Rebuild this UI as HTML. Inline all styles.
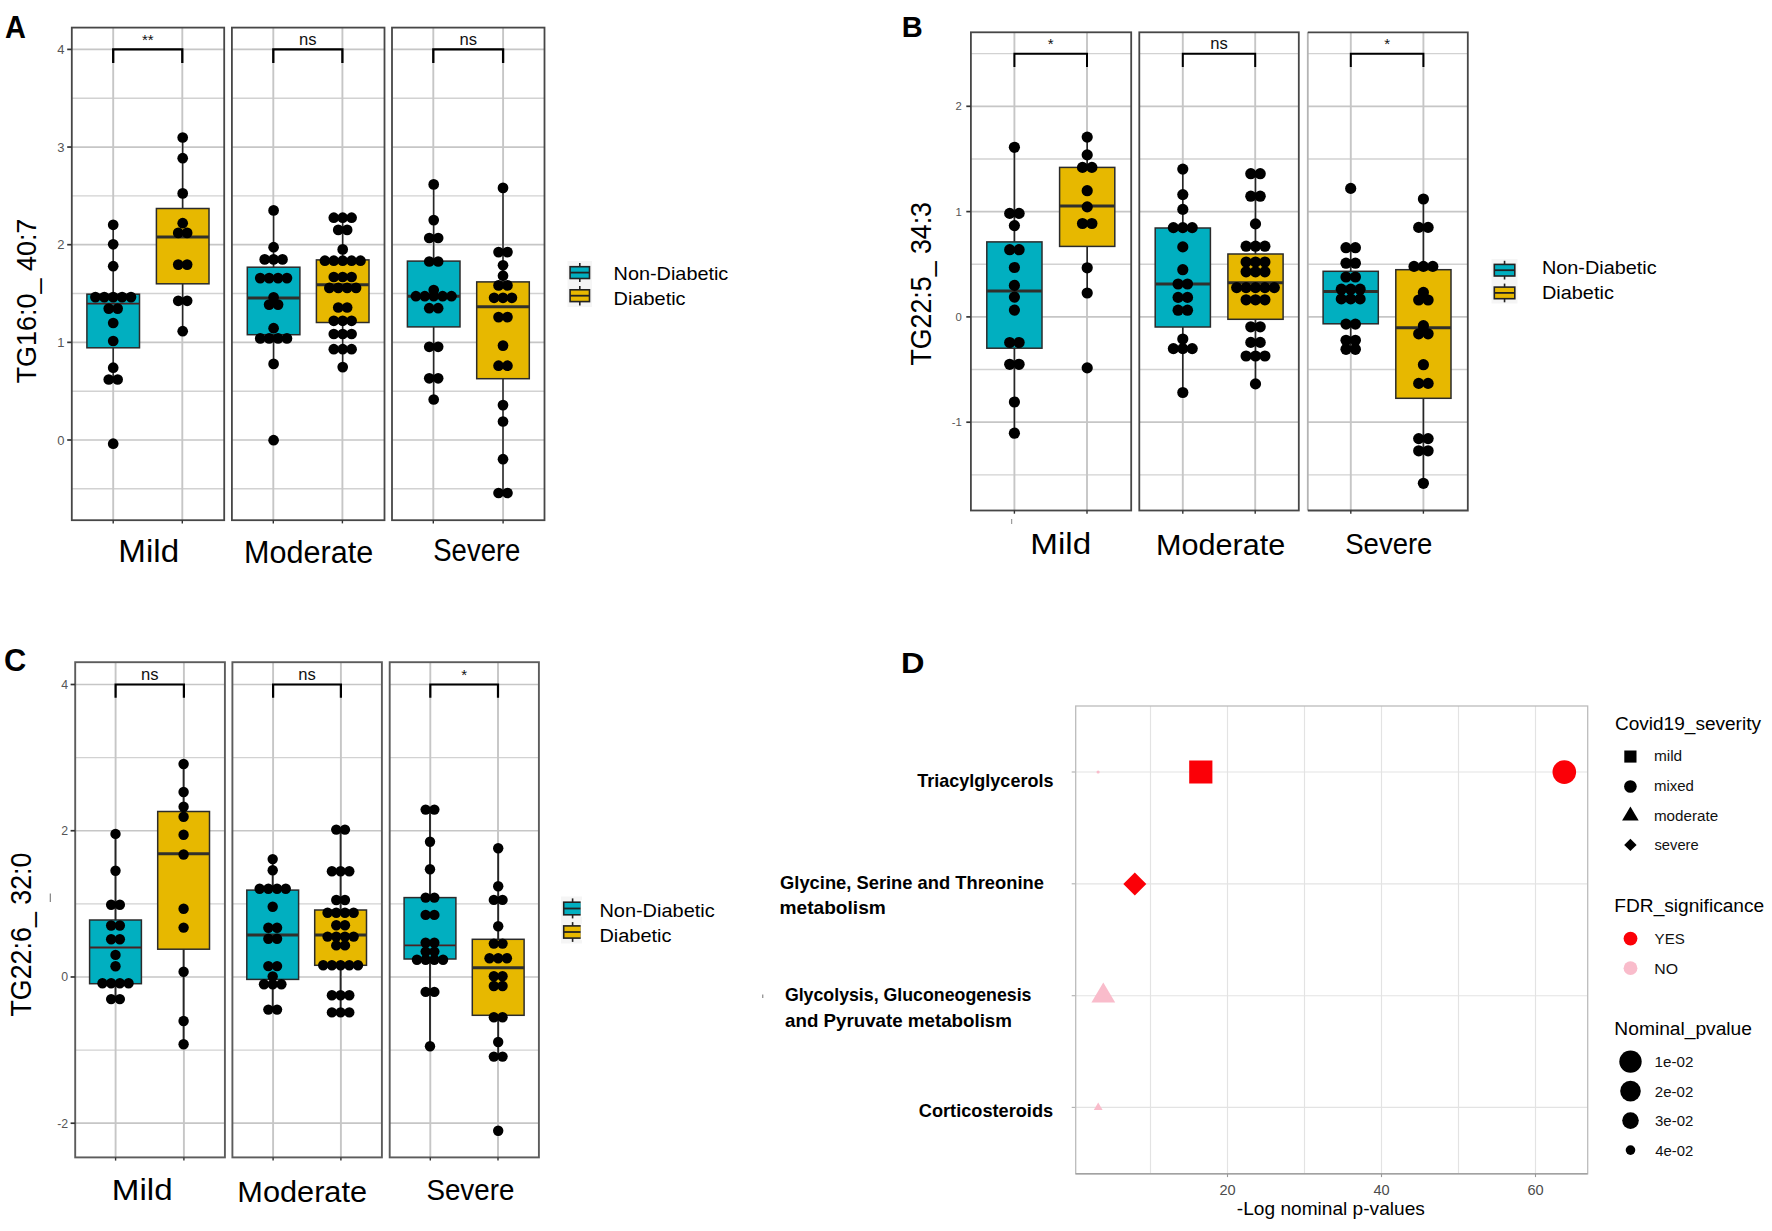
<!DOCTYPE html>
<html lang="en"><head><meta charset="utf-8"><title>Figure</title>
<style>html,body{margin:0;padding:0;background:#fff;overflow:hidden}svg{display:block}</style></head>
<body>
<svg width="1772" height="1231" viewBox="0 0 1772 1231" font-family="'Liberation Sans', sans-serif">
<rect width="1772" height="1231" fill="#fff"/>
<rect x="71.80" y="27.60" width="152.40" height="492.60" fill="#fff"/>
<line x1="71.80" x2="224.20" y1="49.40" y2="49.40" stroke="#c6c6c6" stroke-width="1.70"/>
<line x1="71.80" x2="224.20" y1="98.22" y2="98.22" stroke="#d2d2d2" stroke-width="1.40"/>
<line x1="71.80" x2="224.20" y1="147.05" y2="147.05" stroke="#c6c6c6" stroke-width="1.70"/>
<line x1="71.80" x2="224.20" y1="195.88" y2="195.88" stroke="#d2d2d2" stroke-width="1.40"/>
<line x1="71.80" x2="224.20" y1="244.70" y2="244.70" stroke="#c6c6c6" stroke-width="1.70"/>
<line x1="71.80" x2="224.20" y1="293.52" y2="293.52" stroke="#d2d2d2" stroke-width="1.40"/>
<line x1="71.80" x2="224.20" y1="342.35" y2="342.35" stroke="#c6c6c6" stroke-width="1.70"/>
<line x1="71.80" x2="224.20" y1="391.18" y2="391.18" stroke="#d2d2d2" stroke-width="1.40"/>
<line x1="71.80" x2="224.20" y1="440.00" y2="440.00" stroke="#c6c6c6" stroke-width="1.70"/>
<line x1="71.80" x2="224.20" y1="488.82" y2="488.82" stroke="#d2d2d2" stroke-width="1.40"/>
<line x1="113.20" x2="113.20" y1="27.60" y2="520.20" stroke="#c6c6c6" stroke-width="1.9"/>
<line x1="182.30" x2="182.30" y1="27.60" y2="520.20" stroke="#c6c6c6" stroke-width="1.9"/>
<rect x="231.90" y="27.60" width="152.60" height="492.60" fill="#fff"/>
<line x1="231.90" x2="384.50" y1="49.40" y2="49.40" stroke="#c6c6c6" stroke-width="1.70"/>
<line x1="231.90" x2="384.50" y1="98.22" y2="98.22" stroke="#d2d2d2" stroke-width="1.40"/>
<line x1="231.90" x2="384.50" y1="147.05" y2="147.05" stroke="#c6c6c6" stroke-width="1.70"/>
<line x1="231.90" x2="384.50" y1="195.88" y2="195.88" stroke="#d2d2d2" stroke-width="1.40"/>
<line x1="231.90" x2="384.50" y1="244.70" y2="244.70" stroke="#c6c6c6" stroke-width="1.70"/>
<line x1="231.90" x2="384.50" y1="293.52" y2="293.52" stroke="#d2d2d2" stroke-width="1.40"/>
<line x1="231.90" x2="384.50" y1="342.35" y2="342.35" stroke="#c6c6c6" stroke-width="1.70"/>
<line x1="231.90" x2="384.50" y1="391.18" y2="391.18" stroke="#d2d2d2" stroke-width="1.40"/>
<line x1="231.90" x2="384.50" y1="440.00" y2="440.00" stroke="#c6c6c6" stroke-width="1.70"/>
<line x1="231.90" x2="384.50" y1="488.82" y2="488.82" stroke="#d2d2d2" stroke-width="1.40"/>
<line x1="273.30" x2="273.30" y1="27.60" y2="520.20" stroke="#c6c6c6" stroke-width="1.9"/>
<line x1="342.40" x2="342.40" y1="27.60" y2="520.20" stroke="#c6c6c6" stroke-width="1.9"/>
<rect x="392.00" y="27.60" width="152.50" height="492.60" fill="#fff"/>
<line x1="392.00" x2="544.50" y1="49.40" y2="49.40" stroke="#c6c6c6" stroke-width="1.70"/>
<line x1="392.00" x2="544.50" y1="98.22" y2="98.22" stroke="#d2d2d2" stroke-width="1.40"/>
<line x1="392.00" x2="544.50" y1="147.05" y2="147.05" stroke="#c6c6c6" stroke-width="1.70"/>
<line x1="392.00" x2="544.50" y1="195.88" y2="195.88" stroke="#d2d2d2" stroke-width="1.40"/>
<line x1="392.00" x2="544.50" y1="244.70" y2="244.70" stroke="#c6c6c6" stroke-width="1.70"/>
<line x1="392.00" x2="544.50" y1="293.52" y2="293.52" stroke="#d2d2d2" stroke-width="1.40"/>
<line x1="392.00" x2="544.50" y1="342.35" y2="342.35" stroke="#c6c6c6" stroke-width="1.70"/>
<line x1="392.00" x2="544.50" y1="391.18" y2="391.18" stroke="#d2d2d2" stroke-width="1.40"/>
<line x1="392.00" x2="544.50" y1="440.00" y2="440.00" stroke="#c6c6c6" stroke-width="1.70"/>
<line x1="392.00" x2="544.50" y1="488.82" y2="488.82" stroke="#d2d2d2" stroke-width="1.40"/>
<line x1="433.30" x2="433.30" y1="27.60" y2="520.20" stroke="#c6c6c6" stroke-width="1.9"/>
<line x1="503.10" x2="503.10" y1="27.60" y2="520.20" stroke="#c6c6c6" stroke-width="1.9"/>
<line x1="113.20" x2="113.20" y1="224.80" y2="294.20" stroke="#262626" stroke-width="1.50"/>
<line x1="113.20" x2="113.20" y1="347.80" y2="379.50" stroke="#262626" stroke-width="1.50"/>
<rect x="86.90" y="294.20" width="52.60" height="53.60" fill="#01AFC0" stroke="#2b2b2b" stroke-width="1.5"/>
<line x1="86.90" x2="139.50" y1="303.60" y2="303.60" stroke="#4a2222" stroke-width="1.8"/>
<line x1="182.70" x2="182.70" y1="137.50" y2="208.50" stroke="#262626" stroke-width="1.50"/>
<line x1="182.70" x2="182.70" y1="283.80" y2="331.20" stroke="#262626" stroke-width="1.50"/>
<rect x="156.40" y="208.50" width="52.60" height="75.30" fill="#E7B800" stroke="#2b2b2b" stroke-width="1.5"/>
<line x1="156.40" x2="209.00" y1="237.00" y2="237.00" stroke="#30302c" stroke-width="3.0"/>
<line x1="273.60" x2="273.60" y1="210.40" y2="267.20" stroke="#262626" stroke-width="1.50"/>
<line x1="273.60" x2="273.60" y1="334.70" y2="363.90" stroke="#262626" stroke-width="1.50"/>
<rect x="247.30" y="267.20" width="52.60" height="67.50" fill="#01AFC0" stroke="#2b2b2b" stroke-width="1.5"/>
<line x1="247.30" x2="299.90" y1="298.10" y2="298.10" stroke="#30302c" stroke-width="3.0"/>
<line x1="342.70" x2="342.70" y1="217.70" y2="259.90" stroke="#262626" stroke-width="1.50"/>
<line x1="342.70" x2="342.70" y1="322.50" y2="367.10" stroke="#262626" stroke-width="1.50"/>
<rect x="316.40" y="259.90" width="52.60" height="62.60" fill="#E7B800" stroke="#2b2b2b" stroke-width="1.5"/>
<line x1="316.40" x2="369.00" y1="284.80" y2="284.80" stroke="#30302c" stroke-width="3.0"/>
<line x1="433.70" x2="433.70" y1="184.40" y2="261.10" stroke="#262626" stroke-width="1.50"/>
<line x1="433.70" x2="433.70" y1="326.90" y2="399.50" stroke="#262626" stroke-width="1.50"/>
<rect x="407.40" y="261.10" width="52.60" height="65.80" fill="#01AFC0" stroke="#2b2b2b" stroke-width="1.5"/>
<line x1="407.40" x2="460.00" y1="296.20" y2="296.20" stroke="#30302c" stroke-width="3.0"/>
<line x1="503.00" x2="503.00" y1="187.90" y2="281.90" stroke="#262626" stroke-width="1.50"/>
<line x1="503.00" x2="503.00" y1="378.70" y2="493.00" stroke="#262626" stroke-width="1.50"/>
<rect x="476.70" y="281.90" width="52.60" height="96.80" fill="#E7B800" stroke="#2b2b2b" stroke-width="1.5"/>
<line x1="476.70" x2="529.30" y1="306.70" y2="306.70" stroke="#30302c" stroke-width="3.0"/>
<g fill="#000"><circle cx="113.20" cy="224.80" r="5.35"/><circle cx="113.20" cy="244.30" r="5.35"/><circle cx="113.20" cy="266.20" r="5.35"/><circle cx="95.40" cy="297.10" r="5.35"/><circle cx="104.30" cy="297.10" r="5.35"/><circle cx="113.20" cy="297.10" r="5.35"/><circle cx="122.10" cy="297.10" r="5.35"/><circle cx="131.00" cy="297.10" r="5.35"/><circle cx="108.75" cy="308.60" r="5.35"/><circle cx="117.65" cy="308.60" r="5.35"/><circle cx="113.20" cy="323.00" r="5.35"/><circle cx="113.20" cy="341.00" r="5.35"/><circle cx="113.20" cy="367.70" r="5.35"/><circle cx="108.75" cy="379.50" r="5.35"/><circle cx="117.65" cy="379.50" r="5.35"/><circle cx="113.20" cy="443.70" r="5.35"/><circle cx="182.70" cy="137.50" r="5.35"/><circle cx="182.70" cy="158.20" r="5.35"/><circle cx="182.70" cy="193.40" r="5.35"/><circle cx="182.70" cy="223.20" r="5.35"/><circle cx="178.25" cy="232.90" r="5.35"/><circle cx="187.15" cy="232.90" r="5.35"/><circle cx="178.25" cy="264.60" r="5.35"/><circle cx="187.15" cy="264.60" r="5.35"/><circle cx="178.25" cy="300.80" r="5.35"/><circle cx="187.15" cy="300.80" r="5.35"/><circle cx="182.70" cy="331.20" r="5.35"/><circle cx="273.60" cy="210.40" r="5.35"/><circle cx="273.60" cy="247.20" r="5.35"/><circle cx="264.70" cy="259.40" r="5.35"/><circle cx="273.60" cy="259.40" r="5.35"/><circle cx="282.50" cy="259.40" r="5.35"/><circle cx="260.25" cy="278.10" r="5.35"/><circle cx="269.15" cy="278.10" r="5.35"/><circle cx="278.05" cy="278.10" r="5.35"/><circle cx="286.95" cy="278.10" r="5.35"/><circle cx="273.60" cy="297.30" r="5.35"/><circle cx="269.15" cy="304.60" r="5.35"/><circle cx="278.05" cy="304.60" r="5.35"/><circle cx="273.60" cy="328.20" r="5.35"/><circle cx="260.25" cy="338.40" r="5.35"/><circle cx="269.15" cy="338.40" r="5.35"/><circle cx="278.05" cy="338.40" r="5.35"/><circle cx="286.95" cy="338.40" r="5.35"/><circle cx="273.60" cy="363.90" r="5.35"/><circle cx="273.60" cy="440.20" r="5.35"/><circle cx="333.80" cy="217.70" r="5.35"/><circle cx="342.70" cy="217.70" r="5.35"/><circle cx="351.60" cy="217.70" r="5.35"/><circle cx="338.25" cy="229.90" r="5.35"/><circle cx="347.15" cy="229.90" r="5.35"/><circle cx="342.70" cy="249.40" r="5.35"/><circle cx="324.90" cy="260.70" r="5.35"/><circle cx="333.80" cy="260.70" r="5.35"/><circle cx="342.70" cy="260.70" r="5.35"/><circle cx="351.60" cy="260.70" r="5.35"/><circle cx="360.50" cy="260.70" r="5.35"/><circle cx="333.80" cy="277.00" r="5.35"/><circle cx="342.70" cy="277.00" r="5.35"/><circle cx="351.60" cy="277.00" r="5.35"/><circle cx="329.35" cy="287.90" r="5.35"/><circle cx="338.25" cy="287.90" r="5.35"/><circle cx="347.15" cy="287.90" r="5.35"/><circle cx="356.05" cy="287.90" r="5.35"/><circle cx="338.25" cy="307.50" r="5.35"/><circle cx="347.15" cy="307.50" r="5.35"/><circle cx="333.80" cy="320.80" r="5.35"/><circle cx="342.70" cy="320.80" r="5.35"/><circle cx="351.60" cy="320.80" r="5.35"/><circle cx="333.80" cy="334.00" r="5.35"/><circle cx="342.70" cy="334.00" r="5.35"/><circle cx="351.60" cy="334.00" r="5.35"/><circle cx="333.80" cy="349.20" r="5.35"/><circle cx="342.70" cy="349.20" r="5.35"/><circle cx="351.60" cy="349.20" r="5.35"/><circle cx="342.70" cy="367.10" r="5.35"/><circle cx="433.70" cy="184.40" r="5.35"/><circle cx="433.70" cy="220.10" r="5.35"/><circle cx="429.25" cy="238.00" r="5.35"/><circle cx="438.15" cy="238.00" r="5.35"/><circle cx="429.25" cy="261.50" r="5.35"/><circle cx="438.15" cy="261.50" r="5.35"/><circle cx="433.70" cy="290.00" r="5.35"/><circle cx="415.90" cy="296.20" r="5.35"/><circle cx="424.80" cy="296.20" r="5.35"/><circle cx="433.70" cy="296.20" r="5.35"/><circle cx="442.60" cy="296.20" r="5.35"/><circle cx="451.50" cy="296.20" r="5.35"/><circle cx="429.25" cy="308.20" r="5.35"/><circle cx="438.15" cy="308.20" r="5.35"/><circle cx="429.25" cy="346.80" r="5.35"/><circle cx="438.15" cy="346.80" r="5.35"/><circle cx="429.25" cy="378.30" r="5.35"/><circle cx="438.15" cy="378.30" r="5.35"/><circle cx="433.70" cy="399.50" r="5.35"/><circle cx="503.00" cy="187.90" r="5.35"/><circle cx="498.55" cy="252.10" r="5.35"/><circle cx="507.45" cy="252.10" r="5.35"/><circle cx="503.00" cy="265.30" r="5.35"/><circle cx="503.00" cy="275.70" r="5.35"/><circle cx="498.55" cy="285.40" r="5.35"/><circle cx="507.45" cy="285.40" r="5.35"/><circle cx="494.10" cy="297.80" r="5.35"/><circle cx="503.00" cy="297.80" r="5.35"/><circle cx="511.90" cy="297.80" r="5.35"/><circle cx="498.55" cy="317.10" r="5.35"/><circle cx="507.45" cy="317.10" r="5.35"/><circle cx="503.00" cy="345.60" r="5.35"/><circle cx="498.55" cy="365.70" r="5.35"/><circle cx="507.45" cy="365.70" r="5.35"/><circle cx="503.00" cy="405.10" r="5.35"/><circle cx="503.00" cy="421.50" r="5.35"/><circle cx="503.00" cy="459.20" r="5.35"/><circle cx="498.55" cy="493.00" r="5.35"/><circle cx="507.45" cy="493.00" r="5.35"/></g>
<rect x="71.80" y="27.60" width="152.40" height="492.60" fill="none" stroke="#474747" stroke-width="1.80"/>
<line x1="113.20" x2="113.20" y1="520.20" y2="523.40" stroke="#333" stroke-width="1.4"/>
<line x1="182.30" x2="182.30" y1="520.20" y2="523.40" stroke="#333" stroke-width="1.4"/>
<rect x="231.90" y="27.60" width="152.60" height="492.60" fill="none" stroke="#474747" stroke-width="1.80"/>
<line x1="273.30" x2="273.30" y1="520.20" y2="523.40" stroke="#333" stroke-width="1.4"/>
<line x1="342.40" x2="342.40" y1="520.20" y2="523.40" stroke="#333" stroke-width="1.4"/>
<rect x="392.00" y="27.60" width="152.50" height="492.60" fill="none" stroke="#474747" stroke-width="1.80"/>
<line x1="433.30" x2="433.30" y1="520.20" y2="523.40" stroke="#333" stroke-width="1.4"/>
<line x1="503.10" x2="503.10" y1="520.20" y2="523.40" stroke="#333" stroke-width="1.4"/>
<path d="M113.20 63.00 V49.40 H182.30 V63.00" fill="none" stroke="#000" stroke-width="2.30"/>
<text x="147.75" y="45.00" font-size="15.00" text-anchor="middle" fill="#111">**</text>
<path d="M273.30 63.00 V49.40 H342.40 V63.00" fill="none" stroke="#000" stroke-width="2.30"/>
<text x="307.85" y="44.80" font-size="16.60" text-anchor="middle" fill="#111">ns</text>
<path d="M433.30 63.00 V49.40 H503.10 V63.00" fill="none" stroke="#000" stroke-width="2.30"/>
<text x="468.20" y="44.80" font-size="16.60" text-anchor="middle" fill="#111">ns</text>
<line x1="67.20" x2="71.80" y1="49.40" y2="49.40" stroke="#333" stroke-width="1.7"/>
<text x="64.60" y="54.05" font-size="13.00" text-anchor="end" fill="#555">4</text>
<line x1="67.20" x2="71.80" y1="147.05" y2="147.05" stroke="#333" stroke-width="1.7"/>
<text x="64.60" y="151.70" font-size="13.00" text-anchor="end" fill="#555">3</text>
<line x1="67.20" x2="71.80" y1="244.70" y2="244.70" stroke="#333" stroke-width="1.7"/>
<text x="64.60" y="249.35" font-size="13.00" text-anchor="end" fill="#555">2</text>
<line x1="67.20" x2="71.80" y1="342.35" y2="342.35" stroke="#333" stroke-width="1.7"/>
<text x="64.60" y="347.00" font-size="13.00" text-anchor="end" fill="#555">1</text>
<line x1="67.20" x2="71.80" y1="440.00" y2="440.00" stroke="#333" stroke-width="1.7"/>
<text x="64.60" y="444.65" font-size="13.00" text-anchor="end" fill="#555">0</text>
<rect x="970.90" y="32.30" width="160.30" height="478.20" fill="#fff"/>
<line x1="970.90" x2="1131.20" y1="53.65" y2="53.65" stroke="#d2d2d2" stroke-width="1.40"/>
<line x1="970.90" x2="1131.20" y1="106.30" y2="106.30" stroke="#c6c6c6" stroke-width="1.70"/>
<line x1="970.90" x2="1131.20" y1="158.95" y2="158.95" stroke="#d2d2d2" stroke-width="1.40"/>
<line x1="970.90" x2="1131.20" y1="211.60" y2="211.60" stroke="#c6c6c6" stroke-width="1.70"/>
<line x1="970.90" x2="1131.20" y1="264.25" y2="264.25" stroke="#d2d2d2" stroke-width="1.40"/>
<line x1="970.90" x2="1131.20" y1="316.90" y2="316.90" stroke="#c6c6c6" stroke-width="1.70"/>
<line x1="970.90" x2="1131.20" y1="369.55" y2="369.55" stroke="#d2d2d2" stroke-width="1.40"/>
<line x1="970.90" x2="1131.20" y1="422.20" y2="422.20" stroke="#c6c6c6" stroke-width="1.70"/>
<line x1="970.90" x2="1131.20" y1="474.85" y2="474.85" stroke="#d2d2d2" stroke-width="1.40"/>
<line x1="1014.40" x2="1014.40" y1="32.30" y2="510.50" stroke="#c6c6c6" stroke-width="1.9"/>
<line x1="1087.00" x2="1087.00" y1="32.30" y2="510.50" stroke="#c6c6c6" stroke-width="1.9"/>
<rect x="1139.30" y="32.30" width="159.50" height="478.20" fill="#fff"/>
<line x1="1139.30" x2="1298.80" y1="53.65" y2="53.65" stroke="#d2d2d2" stroke-width="1.40"/>
<line x1="1139.30" x2="1298.80" y1="106.30" y2="106.30" stroke="#c6c6c6" stroke-width="1.70"/>
<line x1="1139.30" x2="1298.80" y1="158.95" y2="158.95" stroke="#d2d2d2" stroke-width="1.40"/>
<line x1="1139.30" x2="1298.80" y1="211.60" y2="211.60" stroke="#c6c6c6" stroke-width="1.70"/>
<line x1="1139.30" x2="1298.80" y1="264.25" y2="264.25" stroke="#d2d2d2" stroke-width="1.40"/>
<line x1="1139.30" x2="1298.80" y1="316.90" y2="316.90" stroke="#c6c6c6" stroke-width="1.70"/>
<line x1="1139.30" x2="1298.80" y1="369.55" y2="369.55" stroke="#d2d2d2" stroke-width="1.40"/>
<line x1="1139.30" x2="1298.80" y1="422.20" y2="422.20" stroke="#c6c6c6" stroke-width="1.70"/>
<line x1="1139.30" x2="1298.80" y1="474.85" y2="474.85" stroke="#d2d2d2" stroke-width="1.40"/>
<line x1="1182.80" x2="1182.80" y1="32.30" y2="510.50" stroke="#c6c6c6" stroke-width="1.9"/>
<line x1="1255.20" x2="1255.20" y1="32.30" y2="510.50" stroke="#c6c6c6" stroke-width="1.9"/>
<rect x="1307.80" y="32.30" width="160.00" height="478.20" fill="#fff"/>
<line x1="1307.80" x2="1467.80" y1="53.65" y2="53.65" stroke="#d2d2d2" stroke-width="1.40"/>
<line x1="1307.80" x2="1467.80" y1="106.30" y2="106.30" stroke="#c6c6c6" stroke-width="1.70"/>
<line x1="1307.80" x2="1467.80" y1="158.95" y2="158.95" stroke="#d2d2d2" stroke-width="1.40"/>
<line x1="1307.80" x2="1467.80" y1="211.60" y2="211.60" stroke="#c6c6c6" stroke-width="1.70"/>
<line x1="1307.80" x2="1467.80" y1="264.25" y2="264.25" stroke="#d2d2d2" stroke-width="1.40"/>
<line x1="1307.80" x2="1467.80" y1="316.90" y2="316.90" stroke="#c6c6c6" stroke-width="1.70"/>
<line x1="1307.80" x2="1467.80" y1="369.55" y2="369.55" stroke="#d2d2d2" stroke-width="1.40"/>
<line x1="1307.80" x2="1467.80" y1="422.20" y2="422.20" stroke="#c6c6c6" stroke-width="1.70"/>
<line x1="1307.80" x2="1467.80" y1="474.85" y2="474.85" stroke="#d2d2d2" stroke-width="1.40"/>
<line x1="1350.80" x2="1350.80" y1="32.30" y2="510.50" stroke="#c6c6c6" stroke-width="1.9"/>
<line x1="1423.40" x2="1423.40" y1="32.30" y2="510.50" stroke="#c6c6c6" stroke-width="1.9"/>
<line x1="1014.40" x2="1014.40" y1="147.30" y2="241.90" stroke="#262626" stroke-width="1.60"/>
<line x1="1014.40" x2="1014.40" y1="348.20" y2="433.20" stroke="#262626" stroke-width="1.60"/>
<rect x="986.80" y="241.90" width="55.20" height="106.30" fill="#01AFC0" stroke="#2b2b2b" stroke-width="1.5"/>
<line x1="986.80" x2="1042.00" y1="290.90" y2="290.90" stroke="#30302c" stroke-width="3.0"/>
<line x1="1087.20" x2="1087.20" y1="137.10" y2="167.40" stroke="#262626" stroke-width="1.60"/>
<line x1="1087.20" x2="1087.20" y1="246.40" y2="293.00" stroke="#262626" stroke-width="1.60"/>
<rect x="1059.60" y="167.40" width="55.20" height="79.00" fill="#E7B800" stroke="#2b2b2b" stroke-width="1.5"/>
<line x1="1059.60" x2="1114.80" y1="206.10" y2="206.10" stroke="#30302c" stroke-width="3.0"/>
<line x1="1182.80" x2="1182.80" y1="169.10" y2="228.00" stroke="#262626" stroke-width="1.60"/>
<line x1="1182.80" x2="1182.80" y1="327.00" y2="392.50" stroke="#262626" stroke-width="1.60"/>
<rect x="1155.20" y="228.00" width="55.20" height="99.00" fill="#01AFC0" stroke="#2b2b2b" stroke-width="1.5"/>
<line x1="1155.20" x2="1210.40" y1="284.00" y2="284.00" stroke="#30302c" stroke-width="3.0"/>
<line x1="1255.50" x2="1255.50" y1="173.70" y2="254.00" stroke="#262626" stroke-width="1.60"/>
<line x1="1255.50" x2="1255.50" y1="319.30" y2="383.90" stroke="#262626" stroke-width="1.60"/>
<rect x="1227.90" y="254.00" width="55.20" height="65.30" fill="#E7B800" stroke="#2b2b2b" stroke-width="1.5"/>
<line x1="1227.90" x2="1283.10" y1="282.80" y2="282.80" stroke="#30302c" stroke-width="3.0"/>
<line x1="1350.70" x2="1350.70" y1="247.70" y2="271.30" stroke="#262626" stroke-width="1.60"/>
<line x1="1350.70" x2="1350.70" y1="323.80" y2="349.30" stroke="#262626" stroke-width="1.60"/>
<rect x="1323.10" y="271.30" width="55.20" height="52.50" fill="#01AFC0" stroke="#2b2b2b" stroke-width="1.5"/>
<line x1="1323.10" x2="1378.30" y1="291.60" y2="291.60" stroke="#30302c" stroke-width="3.0"/>
<line x1="1423.40" x2="1423.40" y1="199.00" y2="269.70" stroke="#262626" stroke-width="1.60"/>
<line x1="1423.40" x2="1423.40" y1="398.30" y2="483.30" stroke="#262626" stroke-width="1.60"/>
<rect x="1395.80" y="269.70" width="55.20" height="128.60" fill="#E7B800" stroke="#2b2b2b" stroke-width="1.5"/>
<line x1="1395.80" x2="1451.00" y1="327.80" y2="327.80" stroke="#30302c" stroke-width="3.0"/>
<g fill="#000"><circle cx="1014.40" cy="147.30" r="5.60"/><circle cx="1009.70" cy="213.40" r="5.60"/><circle cx="1019.10" cy="213.40" r="5.60"/><circle cx="1014.40" cy="225.60" r="5.60"/><circle cx="1009.70" cy="249.70" r="5.60"/><circle cx="1019.10" cy="249.70" r="5.60"/><circle cx="1014.40" cy="267.50" r="5.60"/><circle cx="1014.40" cy="285.40" r="5.60"/><circle cx="1014.40" cy="297.10" r="5.60"/><circle cx="1014.40" cy="310.10" r="5.60"/><circle cx="1009.70" cy="342.50" r="5.60"/><circle cx="1019.10" cy="342.50" r="5.60"/><circle cx="1009.70" cy="364.30" r="5.60"/><circle cx="1019.10" cy="364.30" r="5.60"/><circle cx="1014.40" cy="402.00" r="5.60"/><circle cx="1014.40" cy="433.20" r="5.60"/><circle cx="1087.20" cy="137.10" r="5.60"/><circle cx="1087.20" cy="154.90" r="5.60"/><circle cx="1082.50" cy="167.40" r="5.60"/><circle cx="1091.90" cy="167.40" r="5.60"/><circle cx="1087.20" cy="190.70" r="5.60"/><circle cx="1087.20" cy="206.90" r="5.60"/><circle cx="1082.50" cy="223.50" r="5.60"/><circle cx="1091.90" cy="223.50" r="5.60"/><circle cx="1087.20" cy="267.80" r="5.60"/><circle cx="1087.20" cy="293.00" r="5.60"/><circle cx="1087.20" cy="367.90" r="5.60"/><circle cx="1182.80" cy="169.10" r="5.60"/><circle cx="1182.80" cy="194.60" r="5.60"/><circle cx="1182.80" cy="209.40" r="5.60"/><circle cx="1173.40" cy="227.60" r="5.60"/><circle cx="1182.80" cy="227.60" r="5.60"/><circle cx="1192.20" cy="227.60" r="5.60"/><circle cx="1182.80" cy="246.90" r="5.60"/><circle cx="1182.80" cy="269.70" r="5.60"/><circle cx="1178.10" cy="284.00" r="5.60"/><circle cx="1187.50" cy="284.00" r="5.60"/><circle cx="1178.10" cy="297.40" r="5.60"/><circle cx="1187.50" cy="297.40" r="5.60"/><circle cx="1178.10" cy="310.20" r="5.60"/><circle cx="1187.50" cy="310.20" r="5.60"/><circle cx="1182.80" cy="339.00" r="5.60"/><circle cx="1173.40" cy="348.60" r="5.60"/><circle cx="1182.80" cy="348.60" r="5.60"/><circle cx="1192.20" cy="348.60" r="5.60"/><circle cx="1182.80" cy="392.50" r="5.60"/><circle cx="1250.80" cy="173.70" r="5.60"/><circle cx="1260.20" cy="173.70" r="5.60"/><circle cx="1250.80" cy="196.20" r="5.60"/><circle cx="1260.20" cy="196.20" r="5.60"/><circle cx="1255.50" cy="223.90" r="5.60"/><circle cx="1246.10" cy="246.20" r="5.60"/><circle cx="1255.50" cy="246.20" r="5.60"/><circle cx="1264.90" cy="246.20" r="5.60"/><circle cx="1246.10" cy="262.00" r="5.60"/><circle cx="1255.50" cy="262.00" r="5.60"/><circle cx="1264.90" cy="262.00" r="5.60"/><circle cx="1246.10" cy="271.80" r="5.60"/><circle cx="1255.50" cy="271.80" r="5.60"/><circle cx="1264.90" cy="271.80" r="5.60"/><circle cx="1236.70" cy="287.60" r="5.60"/><circle cx="1246.10" cy="287.60" r="5.60"/><circle cx="1255.50" cy="287.60" r="5.60"/><circle cx="1264.90" cy="287.60" r="5.60"/><circle cx="1274.30" cy="287.60" r="5.60"/><circle cx="1246.10" cy="299.80" r="5.60"/><circle cx="1255.50" cy="299.80" r="5.60"/><circle cx="1264.90" cy="299.80" r="5.60"/><circle cx="1250.80" cy="326.80" r="5.60"/><circle cx="1260.20" cy="326.80" r="5.60"/><circle cx="1250.80" cy="342.40" r="5.60"/><circle cx="1260.20" cy="342.40" r="5.60"/><circle cx="1246.10" cy="356.00" r="5.60"/><circle cx="1255.50" cy="356.00" r="5.60"/><circle cx="1264.90" cy="356.00" r="5.60"/><circle cx="1255.50" cy="383.90" r="5.60"/><circle cx="1350.70" cy="188.40" r="5.60"/><circle cx="1346.00" cy="247.70" r="5.60"/><circle cx="1355.40" cy="247.70" r="5.60"/><circle cx="1346.00" cy="263.20" r="5.60"/><circle cx="1355.40" cy="263.20" r="5.60"/><circle cx="1346.00" cy="277.00" r="5.60"/><circle cx="1355.40" cy="277.00" r="5.60"/><circle cx="1341.30" cy="289.20" r="5.60"/><circle cx="1350.70" cy="289.20" r="5.60"/><circle cx="1360.10" cy="289.20" r="5.60"/><circle cx="1341.30" cy="298.90" r="5.60"/><circle cx="1350.70" cy="298.90" r="5.60"/><circle cx="1360.10" cy="298.90" r="5.60"/><circle cx="1346.00" cy="324.10" r="5.60"/><circle cx="1355.40" cy="324.10" r="5.60"/><circle cx="1346.00" cy="340.30" r="5.60"/><circle cx="1355.40" cy="340.30" r="5.60"/><circle cx="1346.00" cy="349.30" r="5.60"/><circle cx="1355.40" cy="349.30" r="5.60"/><circle cx="1423.40" cy="199.00" r="5.60"/><circle cx="1418.70" cy="227.40" r="5.60"/><circle cx="1428.10" cy="227.40" r="5.60"/><circle cx="1414.00" cy="266.40" r="5.60"/><circle cx="1423.40" cy="266.40" r="5.60"/><circle cx="1432.80" cy="266.40" r="5.60"/><circle cx="1423.40" cy="292.40" r="5.60"/><circle cx="1418.70" cy="300.00" r="5.60"/><circle cx="1428.10" cy="300.00" r="5.60"/><circle cx="1423.40" cy="325.70" r="5.60"/><circle cx="1418.70" cy="333.80" r="5.60"/><circle cx="1428.10" cy="333.80" r="5.60"/><circle cx="1423.40" cy="364.70" r="5.60"/><circle cx="1418.70" cy="383.40" r="5.60"/><circle cx="1428.10" cy="383.40" r="5.60"/><circle cx="1418.70" cy="438.60" r="5.60"/><circle cx="1428.10" cy="438.60" r="5.60"/><circle cx="1418.70" cy="450.80" r="5.60"/><circle cx="1428.10" cy="450.80" r="5.60"/><circle cx="1423.40" cy="483.30" r="5.60"/></g>
<rect x="970.90" y="32.30" width="160.30" height="478.20" fill="none" stroke="#474747" stroke-width="1.80"/>
<line x1="1014.40" x2="1014.40" y1="510.50" y2="513.70" stroke="#333" stroke-width="1.4"/>
<line x1="1087.00" x2="1087.00" y1="510.50" y2="513.70" stroke="#333" stroke-width="1.4"/>
<rect x="1139.30" y="32.30" width="159.50" height="478.20" fill="none" stroke="#474747" stroke-width="1.80"/>
<line x1="1182.80" x2="1182.80" y1="510.50" y2="513.70" stroke="#333" stroke-width="1.4"/>
<line x1="1255.20" x2="1255.20" y1="510.50" y2="513.70" stroke="#333" stroke-width="1.4"/>
<line x1="1307.80" x2="1307.80" y1="32.30" y2="510.50" stroke="#b4b4b4" stroke-width="1.80"/>
<path d="M1307.80 32.30 H1467.80 V510.50 H1307.80" fill="none" stroke="#474747" stroke-width="1.80"/>
<line x1="1350.80" x2="1350.80" y1="510.50" y2="513.70" stroke="#333" stroke-width="1.4"/>
<line x1="1423.40" x2="1423.40" y1="510.50" y2="513.70" stroke="#333" stroke-width="1.4"/>
<path d="M1014.40 66.90 V53.80 H1087.00 V66.90" fill="none" stroke="#000" stroke-width="2.00"/>
<text x="1050.70" y="49.40" font-size="15.00" text-anchor="middle" fill="#111">*</text>
<path d="M1182.80 66.90 V53.80 H1255.20 V66.90" fill="none" stroke="#000" stroke-width="2.00"/>
<text x="1219.00" y="49.20" font-size="16.60" text-anchor="middle" fill="#111">ns</text>
<path d="M1350.80 66.90 V53.80 H1423.40 V66.90" fill="none" stroke="#000" stroke-width="2.00"/>
<text x="1387.10" y="49.40" font-size="15.00" text-anchor="middle" fill="#111">*</text>
<line x1="966.30" x2="970.90" y1="106.30" y2="106.30" stroke="#333" stroke-width="1.7"/>
<text x="961.90" y="110.35" font-size="11.30" text-anchor="end" fill="#555">2</text>
<line x1="966.30" x2="970.90" y1="211.60" y2="211.60" stroke="#333" stroke-width="1.7"/>
<text x="961.90" y="215.65" font-size="11.30" text-anchor="end" fill="#555">1</text>
<line x1="966.30" x2="970.90" y1="316.90" y2="316.90" stroke="#333" stroke-width="1.7"/>
<text x="961.90" y="320.95" font-size="11.30" text-anchor="end" fill="#555">0</text>
<line x1="966.30" x2="970.90" y1="422.20" y2="422.20" stroke="#333" stroke-width="1.7"/>
<text x="961.90" y="426.25" font-size="11.30" text-anchor="end" fill="#555">-1</text>
<rect x="75.20" y="662.20" width="149.70" height="495.20" fill="#fff"/>
<line x1="75.20" x2="224.90" y1="684.50" y2="684.50" stroke="#c6c6c6" stroke-width="1.70"/>
<line x1="75.20" x2="224.90" y1="757.62" y2="757.62" stroke="#d2d2d2" stroke-width="1.40"/>
<line x1="75.20" x2="224.90" y1="830.74" y2="830.74" stroke="#c6c6c6" stroke-width="1.70"/>
<line x1="75.20" x2="224.90" y1="903.86" y2="903.86" stroke="#d2d2d2" stroke-width="1.40"/>
<line x1="75.20" x2="224.90" y1="976.98" y2="976.98" stroke="#c6c6c6" stroke-width="1.70"/>
<line x1="75.20" x2="224.90" y1="1050.10" y2="1050.10" stroke="#d2d2d2" stroke-width="1.40"/>
<line x1="75.20" x2="224.90" y1="1123.22" y2="1123.22" stroke="#c6c6c6" stroke-width="1.70"/>
<line x1="115.60" x2="115.60" y1="662.20" y2="1157.40" stroke="#c6c6c6" stroke-width="1.9"/>
<line x1="183.90" x2="183.90" y1="662.20" y2="1157.40" stroke="#c6c6c6" stroke-width="1.9"/>
<rect x="232.40" y="662.20" width="149.50" height="495.20" fill="#fff"/>
<line x1="232.40" x2="381.90" y1="684.50" y2="684.50" stroke="#c6c6c6" stroke-width="1.70"/>
<line x1="232.40" x2="381.90" y1="757.62" y2="757.62" stroke="#d2d2d2" stroke-width="1.40"/>
<line x1="232.40" x2="381.90" y1="830.74" y2="830.74" stroke="#c6c6c6" stroke-width="1.70"/>
<line x1="232.40" x2="381.90" y1="903.86" y2="903.86" stroke="#d2d2d2" stroke-width="1.40"/>
<line x1="232.40" x2="381.90" y1="976.98" y2="976.98" stroke="#c6c6c6" stroke-width="1.70"/>
<line x1="232.40" x2="381.90" y1="1050.10" y2="1050.10" stroke="#d2d2d2" stroke-width="1.40"/>
<line x1="232.40" x2="381.90" y1="1123.22" y2="1123.22" stroke="#c6c6c6" stroke-width="1.70"/>
<line x1="273.10" x2="273.10" y1="662.20" y2="1157.40" stroke="#c6c6c6" stroke-width="1.9"/>
<line x1="340.90" x2="340.90" y1="662.20" y2="1157.40" stroke="#c6c6c6" stroke-width="1.9"/>
<rect x="389.70" y="662.20" width="149.20" height="495.20" fill="#fff"/>
<line x1="389.70" x2="538.90" y1="684.50" y2="684.50" stroke="#c6c6c6" stroke-width="1.70"/>
<line x1="389.70" x2="538.90" y1="757.62" y2="757.62" stroke="#d2d2d2" stroke-width="1.40"/>
<line x1="389.70" x2="538.90" y1="830.74" y2="830.74" stroke="#c6c6c6" stroke-width="1.70"/>
<line x1="389.70" x2="538.90" y1="903.86" y2="903.86" stroke="#d2d2d2" stroke-width="1.40"/>
<line x1="389.70" x2="538.90" y1="976.98" y2="976.98" stroke="#c6c6c6" stroke-width="1.70"/>
<line x1="389.70" x2="538.90" y1="1050.10" y2="1050.10" stroke="#d2d2d2" stroke-width="1.40"/>
<line x1="389.70" x2="538.90" y1="1123.22" y2="1123.22" stroke="#c6c6c6" stroke-width="1.70"/>
<line x1="430.30" x2="430.30" y1="662.20" y2="1157.40" stroke="#c6c6c6" stroke-width="1.9"/>
<line x1="498.00" x2="498.00" y1="662.20" y2="1157.40" stroke="#c6c6c6" stroke-width="1.9"/>
<line x1="115.50" x2="115.50" y1="833.90" y2="920.00" stroke="#262626" stroke-width="1.90"/>
<line x1="115.50" x2="115.50" y1="983.70" y2="999.10" stroke="#262626" stroke-width="1.90"/>
<rect x="89.60" y="920.00" width="51.80" height="63.70" fill="#01AFC0" stroke="#2b2b2b" stroke-width="1.5"/>
<line x1="89.60" x2="141.40" y1="947.60" y2="947.60" stroke="#4a2222" stroke-width="2.0"/>
<line x1="183.60" x2="183.60" y1="764.00" y2="811.50" stroke="#262626" stroke-width="1.90"/>
<line x1="183.60" x2="183.60" y1="949.20" y2="1044.30" stroke="#262626" stroke-width="1.90"/>
<rect x="157.70" y="811.50" width="51.80" height="137.70" fill="#E7B800" stroke="#2b2b2b" stroke-width="1.5"/>
<line x1="157.70" x2="209.50" y1="853.70" y2="853.70" stroke="#30302c" stroke-width="3.0"/>
<line x1="272.70" x2="272.70" y1="859.10" y2="890.10" stroke="#262626" stroke-width="1.90"/>
<line x1="272.70" x2="272.70" y1="979.40" y2="1009.60" stroke="#262626" stroke-width="1.90"/>
<rect x="246.80" y="890.10" width="51.80" height="89.30" fill="#01AFC0" stroke="#2b2b2b" stroke-width="1.5"/>
<line x1="246.80" x2="298.60" y1="935.10" y2="935.10" stroke="#30302c" stroke-width="3.0"/>
<line x1="340.60" x2="340.60" y1="829.60" y2="910.00" stroke="#262626" stroke-width="1.90"/>
<line x1="340.60" x2="340.60" y1="965.30" y2="1012.40" stroke="#262626" stroke-width="1.90"/>
<rect x="314.70" y="910.00" width="51.80" height="55.30" fill="#E7B800" stroke="#2b2b2b" stroke-width="1.5"/>
<line x1="314.70" x2="366.50" y1="935.00" y2="935.00" stroke="#30302c" stroke-width="3.0"/>
<line x1="430.00" x2="430.00" y1="809.60" y2="897.60" stroke="#262626" stroke-width="1.90"/>
<line x1="430.00" x2="430.00" y1="959.00" y2="1046.30" stroke="#262626" stroke-width="1.90"/>
<rect x="404.10" y="897.60" width="51.80" height="61.40" fill="#01AFC0" stroke="#2b2b2b" stroke-width="1.5"/>
<line x1="404.10" x2="455.90" y1="945.30" y2="945.30" stroke="#4a2222" stroke-width="1.8"/>
<line x1="498.20" x2="498.20" y1="848.20" y2="939.30" stroke="#262626" stroke-width="1.90"/>
<line x1="498.20" x2="498.20" y1="1015.30" y2="1056.60" stroke="#262626" stroke-width="1.90"/>
<rect x="472.30" y="939.30" width="51.80" height="76.00" fill="#E7B800" stroke="#2b2b2b" stroke-width="1.5"/>
<line x1="472.30" x2="524.10" y1="967.80" y2="967.80" stroke="#30302c" stroke-width="3.0"/>
<g fill="#000"><circle cx="115.50" cy="833.90" r="5.20"/><circle cx="115.50" cy="870.80" r="5.20"/><circle cx="111.15" cy="904.70" r="5.20"/><circle cx="119.85" cy="904.70" r="5.20"/><circle cx="111.15" cy="925.50" r="5.20"/><circle cx="119.85" cy="925.50" r="5.20"/><circle cx="111.15" cy="939.20" r="5.20"/><circle cx="119.85" cy="939.20" r="5.20"/><circle cx="115.50" cy="954.90" r="5.20"/><circle cx="115.50" cy="966.30" r="5.20"/><circle cx="102.45" cy="983.20" r="5.20"/><circle cx="111.15" cy="983.20" r="5.20"/><circle cx="119.85" cy="983.20" r="5.20"/><circle cx="128.55" cy="983.20" r="5.20"/><circle cx="111.15" cy="999.10" r="5.20"/><circle cx="119.85" cy="999.10" r="5.20"/><circle cx="183.60" cy="764.00" r="5.20"/><circle cx="183.60" cy="792.00" r="5.20"/><circle cx="183.60" cy="806.70" r="5.20"/><circle cx="183.60" cy="816.80" r="5.20"/><circle cx="183.60" cy="834.70" r="5.20"/><circle cx="183.60" cy="854.50" r="5.20"/><circle cx="183.60" cy="908.70" r="5.20"/><circle cx="183.60" cy="927.60" r="5.20"/><circle cx="183.60" cy="971.80" r="5.20"/><circle cx="183.60" cy="1021.00" r="5.20"/><circle cx="183.60" cy="1044.30" r="5.20"/><circle cx="272.70" cy="859.10" r="5.20"/><circle cx="272.70" cy="870.20" r="5.20"/><circle cx="259.65" cy="888.70" r="5.20"/><circle cx="268.35" cy="888.70" r="5.20"/><circle cx="277.05" cy="888.70" r="5.20"/><circle cx="285.75" cy="888.70" r="5.20"/><circle cx="272.70" cy="906.80" r="5.20"/><circle cx="268.35" cy="927.70" r="5.20"/><circle cx="277.05" cy="927.70" r="5.20"/><circle cx="268.35" cy="938.80" r="5.20"/><circle cx="277.05" cy="938.80" r="5.20"/><circle cx="268.35" cy="966.10" r="5.20"/><circle cx="277.05" cy="966.10" r="5.20"/><circle cx="272.70" cy="976.40" r="5.20"/><circle cx="264.00" cy="984.20" r="5.20"/><circle cx="272.70" cy="984.20" r="5.20"/><circle cx="281.40" cy="984.20" r="5.20"/><circle cx="268.35" cy="1009.60" r="5.20"/><circle cx="277.05" cy="1009.60" r="5.20"/><circle cx="336.25" cy="829.60" r="5.20"/><circle cx="344.95" cy="829.60" r="5.20"/><circle cx="331.90" cy="871.20" r="5.20"/><circle cx="340.60" cy="871.20" r="5.20"/><circle cx="349.30" cy="871.20" r="5.20"/><circle cx="336.25" cy="900.00" r="5.20"/><circle cx="344.95" cy="900.00" r="5.20"/><circle cx="327.55" cy="912.70" r="5.20"/><circle cx="336.25" cy="912.70" r="5.20"/><circle cx="344.95" cy="912.70" r="5.20"/><circle cx="353.65" cy="912.70" r="5.20"/><circle cx="336.25" cy="925.30" r="5.20"/><circle cx="344.95" cy="925.30" r="5.20"/><circle cx="327.55" cy="936.60" r="5.20"/><circle cx="336.25" cy="936.60" r="5.20"/><circle cx="344.95" cy="936.60" r="5.20"/><circle cx="353.65" cy="936.60" r="5.20"/><circle cx="336.25" cy="945.40" r="5.20"/><circle cx="344.95" cy="945.40" r="5.20"/><circle cx="323.20" cy="965.20" r="5.20"/><circle cx="331.90" cy="965.20" r="5.20"/><circle cx="340.60" cy="965.20" r="5.20"/><circle cx="349.30" cy="965.20" r="5.20"/><circle cx="358.00" cy="965.20" r="5.20"/><circle cx="331.90" cy="995.20" r="5.20"/><circle cx="340.60" cy="995.20" r="5.20"/><circle cx="349.30" cy="995.20" r="5.20"/><circle cx="331.90" cy="1012.40" r="5.20"/><circle cx="340.60" cy="1012.40" r="5.20"/><circle cx="349.30" cy="1012.40" r="5.20"/><circle cx="425.65" cy="809.60" r="5.20"/><circle cx="434.35" cy="809.60" r="5.20"/><circle cx="430.00" cy="841.80" r="5.20"/><circle cx="430.00" cy="869.30" r="5.20"/><circle cx="425.65" cy="897.60" r="5.20"/><circle cx="434.35" cy="897.60" r="5.20"/><circle cx="425.65" cy="914.90" r="5.20"/><circle cx="434.35" cy="914.90" r="5.20"/><circle cx="425.65" cy="942.80" r="5.20"/><circle cx="434.35" cy="942.80" r="5.20"/><circle cx="425.65" cy="951.60" r="5.20"/><circle cx="434.35" cy="951.60" r="5.20"/><circle cx="416.95" cy="959.80" r="5.20"/><circle cx="425.65" cy="959.80" r="5.20"/><circle cx="434.35" cy="959.80" r="5.20"/><circle cx="443.05" cy="959.80" r="5.20"/><circle cx="425.65" cy="991.90" r="5.20"/><circle cx="434.35" cy="991.90" r="5.20"/><circle cx="430.00" cy="1046.30" r="5.20"/><circle cx="498.20" cy="848.20" r="5.20"/><circle cx="498.20" cy="886.30" r="5.20"/><circle cx="493.85" cy="899.90" r="5.20"/><circle cx="502.55" cy="899.90" r="5.20"/><circle cx="498.20" cy="926.20" r="5.20"/><circle cx="493.85" cy="943.60" r="5.20"/><circle cx="502.55" cy="943.60" r="5.20"/><circle cx="489.50" cy="958.20" r="5.20"/><circle cx="498.20" cy="958.20" r="5.20"/><circle cx="506.90" cy="958.20" r="5.20"/><circle cx="493.85" cy="976.20" r="5.20"/><circle cx="502.55" cy="976.20" r="5.20"/><circle cx="493.85" cy="986.00" r="5.20"/><circle cx="502.55" cy="986.00" r="5.20"/><circle cx="493.85" cy="1017.30" r="5.20"/><circle cx="502.55" cy="1017.30" r="5.20"/><circle cx="498.20" cy="1042.00" r="5.20"/><circle cx="493.85" cy="1056.60" r="5.20"/><circle cx="502.55" cy="1056.60" r="5.20"/><circle cx="498.20" cy="1130.70" r="5.20"/></g>
<rect x="75.20" y="662.20" width="149.70" height="495.20" fill="none" stroke="#5c5c5c" stroke-width="1.90"/>
<line x1="115.60" x2="115.60" y1="1157.40" y2="1160.60" stroke="#333" stroke-width="1.4"/>
<line x1="183.90" x2="183.90" y1="1157.40" y2="1160.60" stroke="#333" stroke-width="1.4"/>
<rect x="232.40" y="662.20" width="149.50" height="495.20" fill="none" stroke="#5c5c5c" stroke-width="1.90"/>
<line x1="273.10" x2="273.10" y1="1157.40" y2="1160.60" stroke="#333" stroke-width="1.4"/>
<line x1="340.90" x2="340.90" y1="1157.40" y2="1160.60" stroke="#333" stroke-width="1.4"/>
<rect x="389.70" y="662.20" width="149.20" height="495.20" fill="none" stroke="#5c5c5c" stroke-width="1.90"/>
<line x1="430.30" x2="430.30" y1="1157.40" y2="1160.60" stroke="#333" stroke-width="1.4"/>
<line x1="498.00" x2="498.00" y1="1157.40" y2="1160.60" stroke="#333" stroke-width="1.4"/>
<path d="M115.60 697.70 V684.50 H183.90 V697.70" fill="none" stroke="#000" stroke-width="2.20"/>
<text x="149.75" y="679.90" font-size="16.60" text-anchor="middle" fill="#111">ns</text>
<path d="M273.10 697.70 V684.50 H340.90 V697.70" fill="none" stroke="#000" stroke-width="2.20"/>
<text x="307.00" y="679.90" font-size="16.60" text-anchor="middle" fill="#111">ns</text>
<path d="M430.30 697.70 V684.50 H498.00 V697.70" fill="none" stroke="#000" stroke-width="2.20"/>
<text x="464.15" y="680.10" font-size="15.00" text-anchor="middle" fill="#111">*</text>
<line x1="70.60" x2="75.20" y1="684.50" y2="684.50" stroke="#333" stroke-width="1.7"/>
<text x="68.20" y="688.90" font-size="12.30" text-anchor="end" fill="#555">4</text>
<line x1="70.60" x2="75.20" y1="830.74" y2="830.74" stroke="#333" stroke-width="1.7"/>
<text x="68.20" y="835.14" font-size="12.30" text-anchor="end" fill="#555">2</text>
<line x1="70.60" x2="75.20" y1="976.98" y2="976.98" stroke="#333" stroke-width="1.7"/>
<text x="68.20" y="981.38" font-size="12.30" text-anchor="end" fill="#555">0</text>
<line x1="70.60" x2="75.20" y1="1123.22" y2="1123.22" stroke="#333" stroke-width="1.7"/>
<text x="68.20" y="1127.62" font-size="12.30" text-anchor="end" fill="#555">-2</text>
<text x="4.88" y="38.00" font-size="30.43" font-weight="bold" fill="#000" textLength="20.91" lengthAdjust="spacingAndGlyphs">A</text>
<text x="901.71" y="37.00" font-size="29.28" font-weight="bold" fill="#000" textLength="20.96" lengthAdjust="spacingAndGlyphs">B</text>
<text x="3.97" y="671.30" font-size="31.01" font-weight="bold" fill="#000" textLength="22.27" lengthAdjust="spacingAndGlyphs">C</text>
<text x="901.09" y="672.60" font-size="29.86" font-weight="bold" fill="#000" textLength="23.49" lengthAdjust="spacingAndGlyphs">D</text>
<text x="118.35" y="562.00" font-size="31.01" fill="#000" textLength="60.72" lengthAdjust="spacingAndGlyphs">Mild</text>
<text x="244.06" y="562.60" font-size="31.01" fill="#000" textLength="129.11" lengthAdjust="spacingAndGlyphs">Moderate</text>
<text x="433.26" y="561.40" font-size="31.01" fill="#000" textLength="87.17" lengthAdjust="spacingAndGlyphs">Severe</text>
<text x="1030.25" y="553.70" font-size="29.86" fill="#000" textLength="60.83" lengthAdjust="spacingAndGlyphs">Mild</text>
<text x="1156.06" y="555.00" font-size="29.86" fill="#000" textLength="129.11" lengthAdjust="spacingAndGlyphs">Moderate</text>
<text x="1345.26" y="553.90" font-size="29.86" fill="#000" textLength="87.17" lengthAdjust="spacingAndGlyphs">Severe</text>
<text x="111.85" y="1200.10" font-size="29.57" fill="#000" textLength="60.72" lengthAdjust="spacingAndGlyphs">Mild</text>
<text x="237.34" y="1202.10" font-size="29.57" fill="#000" textLength="129.73" lengthAdjust="spacingAndGlyphs">Moderate</text>
<text x="426.45" y="1200.30" font-size="29.57" fill="#000" textLength="87.90" lengthAdjust="spacingAndGlyphs">Severe</text>
<text x="-383.34" y="36.00" font-size="28.26" fill="#000" textLength="164.69" lengthAdjust="spacingAndGlyphs" transform="rotate(-90)">TG16:0_ 40:7</text>
<text x="-365.53" y="930.90" font-size="29.28" fill="#000" textLength="163.51" lengthAdjust="spacingAndGlyphs" transform="rotate(-90)">TG22:5_ 34:3</text>
<text x="-1016.54" y="30.80" font-size="28.99" fill="#000" textLength="163.98" lengthAdjust="spacingAndGlyphs" transform="rotate(-90)">TG22:6_ 32:0</text>
<rect x="567.5" y="261" width="24.5" height="46" fill="#f5f5f5"/>
<rect x="1491.5" y="259" width="26" height="44.5" fill="#f5f5f5"/>
<rect x="561" y="896.5" width="21" height="47" fill="#f5f5f5"/>
<line x1="579.80" x2="579.80" y1="262.90" y2="282.10" stroke="#222" stroke-width="1.6"/>
<rect x="570.10" y="266.70" width="19.40" height="11.80" fill="#01AFC0" stroke="#222" stroke-width="1.6"/>
<line x1="570.10" x2="589.50" y1="272.60" y2="272.60" stroke="#222" stroke-width="1.8"/>
<line x1="579.80" x2="579.80" y1="286.00" y2="305.40" stroke="#222" stroke-width="1.6"/>
<rect x="570.10" y="289.80" width="19.40" height="11.80" fill="#E7B800" stroke="#222" stroke-width="1.6"/>
<line x1="570.10" x2="589.50" y1="295.70" y2="295.70" stroke="#222" stroke-width="1.8"/>
<text x="613.61" y="279.70" font-size="18.84" fill="#000" textLength="114.69" lengthAdjust="spacingAndGlyphs">Non-Diabetic</text>
<text x="613.61" y="305.40" font-size="19.13" fill="#000" textLength="71.95" lengthAdjust="spacingAndGlyphs">Diabetic</text>
<line x1="1504.55" x2="1504.55" y1="260.80" y2="279.50" stroke="#222" stroke-width="1.6"/>
<rect x="1494.30" y="264.40" width="20.50" height="11.60" fill="#01AFC0" stroke="#222" stroke-width="1.6"/>
<line x1="1494.30" x2="1514.80" y1="270.20" y2="270.20" stroke="#222" stroke-width="1.8"/>
<line x1="1504.55" x2="1504.55" y1="283.60" y2="302.30" stroke="#222" stroke-width="1.6"/>
<rect x="1494.30" y="287.10" width="20.50" height="11.60" fill="#E7B800" stroke="#222" stroke-width="1.6"/>
<line x1="1494.30" x2="1514.80" y1="292.90" y2="292.90" stroke="#222" stroke-width="1.8"/>
<text x="1541.91" y="273.80" font-size="19.13" fill="#000" textLength="114.69" lengthAdjust="spacingAndGlyphs">Non-Diabetic</text>
<text x="1541.91" y="299.00" font-size="19.28" fill="#000" textLength="71.95" lengthAdjust="spacingAndGlyphs">Diabetic</text>
<line x1="572.60" x2="572.60" y1="898.40" y2="918.40" stroke="#222" stroke-width="1.6"/>
<rect x="563.70" y="902.20" width="17.80" height="12.60" fill="#01AFC0" stroke="#222" stroke-width="1.6"/>
<line x1="563.70" x2="581.50" y1="908.50" y2="908.50" stroke="#222" stroke-width="1.8"/>
<rect x="580.70" y="900.20" width="3" height="16.60" fill="#fff"/>
<line x1="572.60" x2="572.60" y1="922.10" y2="941.90" stroke="#222" stroke-width="1.6"/>
<rect x="563.70" y="925.90" width="17.80" height="12.20" fill="#E7B800" stroke="#222" stroke-width="1.6"/>
<line x1="563.70" x2="581.50" y1="932.00" y2="932.00" stroke="#222" stroke-width="1.8"/>
<rect x="580.70" y="923.90" width="3" height="16.20" fill="#fff"/>
<text x="599.40" y="916.80" font-size="18.84" fill="#000" textLength="115.30" lengthAdjust="spacingAndGlyphs">Non-Diabetic</text>
<text x="599.40" y="941.90" font-size="19.13" fill="#000" textLength="72.05" lengthAdjust="spacingAndGlyphs">Diabetic</text>
<line x1="1011.7" x2="1011.7" y1="519" y2="524" stroke="#888" stroke-width="1"/>
<line x1="50.3" x2="50.3" y1="893.5" y2="902" stroke="#777" stroke-width="1.1"/>
<rect x="1075.70" y="706.00" width="512.00" height="467.80" fill="#fff"/>
<line x1="1150.50" x2="1150.50" y1="706.00" y2="1173.80" stroke="#e3e3e3" stroke-width="1.15"/>
<line x1="1227.50" x2="1227.50" y1="706.00" y2="1173.80" stroke="#e3e3e3" stroke-width="1.15"/>
<line x1="1304.50" x2="1304.50" y1="706.00" y2="1173.80" stroke="#e3e3e3" stroke-width="1.15"/>
<line x1="1381.50" x2="1381.50" y1="706.00" y2="1173.80" stroke="#e3e3e3" stroke-width="1.15"/>
<line x1="1458.50" x2="1458.50" y1="706.00" y2="1173.80" stroke="#e3e3e3" stroke-width="1.15"/>
<line x1="1535.50" x2="1535.50" y1="706.00" y2="1173.80" stroke="#e3e3e3" stroke-width="1.15"/>
<line x1="1075.70" x2="1587.70" y1="772.00" y2="772.00" stroke="#e3e3e3" stroke-width="1.15"/>
<line x1="1071.70" x2="1075.70" y1="772.00" y2="772.00" stroke="#b0b0b0" stroke-width="1.1"/>
<line x1="1075.70" x2="1587.70" y1="883.80" y2="883.80" stroke="#e3e3e3" stroke-width="1.15"/>
<line x1="1071.70" x2="1075.70" y1="883.80" y2="883.80" stroke="#b0b0b0" stroke-width="1.1"/>
<line x1="1075.70" x2="1587.70" y1="995.70" y2="995.70" stroke="#e3e3e3" stroke-width="1.15"/>
<line x1="1071.70" x2="1075.70" y1="995.70" y2="995.70" stroke="#b0b0b0" stroke-width="1.1"/>
<line x1="1075.70" x2="1587.70" y1="1107.40" y2="1107.40" stroke="#e3e3e3" stroke-width="1.15"/>
<line x1="1071.70" x2="1075.70" y1="1107.40" y2="1107.40" stroke="#b0b0b0" stroke-width="1.1"/>
<rect x="1075.70" y="706.00" width="512.00" height="467.80" fill="none" stroke="#bcbcbc" stroke-width="1.3"/>
<line x1="1075.70" x2="1587.70" y1="1173.80" y2="1173.80" stroke="#a2a2a2" stroke-width="1.4"/>
<line x1="1227.50" x2="1227.50" y1="1173.80" y2="1177.10" stroke="#999" stroke-width="1.1"/>
<text x="1227.50" y="1194.50" font-size="14.60" text-anchor="middle" fill="#4d4d4d">20</text>
<line x1="1381.50" x2="1381.50" y1="1173.80" y2="1177.10" stroke="#999" stroke-width="1.1"/>
<text x="1381.50" y="1194.50" font-size="14.60" text-anchor="middle" fill="#4d4d4d">40</text>
<line x1="1535.50" x2="1535.50" y1="1173.80" y2="1177.10" stroke="#999" stroke-width="1.1"/>
<text x="1535.50" y="1194.50" font-size="14.60" text-anchor="middle" fill="#4d4d4d">60</text>
<circle cx="1098.1" cy="772" r="1.6" fill="#f9bccb"/>
<rect x="1189.2" y="760.5" width="23.2" height="23" fill="#fb0007"/>
<circle cx="1564.3" cy="772.1" r="11.8" fill="#fb0007"/>
<path d="M1134.8 872.4 L1146.3 883.9 L1134.8 895.4 L1123.3 883.9 Z" fill="#fb0007"/>
<path d="M1103.3 982.6 L1115.2 1002.6 L1091.4 1002.6 Z" fill="#f9bccb"/>
<path d="M1098.2 1102.6 L1102.6 1109.9 L1093.8 1109.9 Z" fill="#f9bccb"/>
<text x="917.32" y="786.90" font-size="18.84" font-weight="bold" fill="#000" textLength="136.10" lengthAdjust="spacingAndGlyphs">Triacylglycerols</text>
<text x="780.07" y="889.20" font-size="18.84" font-weight="bold" fill="#000" textLength="263.82" lengthAdjust="spacingAndGlyphs">Glycine, Serine and Threonine</text>
<text x="779.56" y="914.40" font-size="18.84" font-weight="bold" fill="#000" textLength="106.24" lengthAdjust="spacingAndGlyphs">metabolism</text>
<text x="784.89" y="1001.10" font-size="18.84" font-weight="bold" fill="#000" textLength="246.61" lengthAdjust="spacingAndGlyphs">Glycolysis, Gluconeogenesis</text>
<text x="785.04" y="1026.50" font-size="18.84" font-weight="bold" fill="#000" textLength="226.89" lengthAdjust="spacingAndGlyphs">and Pyruvate metabolism</text>
<text x="918.77" y="1117.30" font-size="18.84" font-weight="bold" fill="#000" textLength="134.36" lengthAdjust="spacingAndGlyphs">Corticosteroids</text>
<rect x="762" y="994.5" width="1.4" height="3.5" fill="#999"/>
<text x="1236.84" y="1215.00" font-size="18.55" fill="#000" textLength="188.01" lengthAdjust="spacingAndGlyphs">-Log nominal p-values</text>
<text x="1614.95" y="729.80" font-size="18.41" fill="#000" textLength="146.06" lengthAdjust="spacingAndGlyphs">Covid19_severity</text>
<rect x="1624.3" y="750.5" width="12.2" height="12.1" fill="#000"/>
<circle cx="1630.4" cy="786.5" r="6.3" fill="#000"/>
<path d="M1630.4 806.6 L1638.7 820.5 L1622.1 820.5 Z" fill="#000"/>
<path d="M1630.4 838.7 L1636.6 844.9 L1630.4 851.1 L1624.2 844.9 Z" fill="#000"/>
<text x="1653.90" y="761.40" font-size="14.70" fill="#111" textLength="28.26" lengthAdjust="spacingAndGlyphs">mild</text>
<text x="1653.93" y="790.95" font-size="14.70" fill="#111" textLength="39.99" lengthAdjust="spacingAndGlyphs">mixed</text>
<text x="1653.91" y="820.50" font-size="14.70" fill="#111" textLength="64.27" lengthAdjust="spacingAndGlyphs">moderate</text>
<text x="1654.46" y="850.05" font-size="14.70" fill="#111" textLength="44.23" lengthAdjust="spacingAndGlyphs">severe</text>
<text x="1614.37" y="911.70" font-size="18.41" fill="#000" textLength="149.82" lengthAdjust="spacingAndGlyphs">FDR_significance</text>
<circle cx="1630.5" cy="938.6" r="6.9" fill="#fb0007"/>
<circle cx="1630.5" cy="968.2" r="6.9" fill="#f9bccb"/>
<text x="1654.62" y="943.90" font-size="14.70" fill="#111" textLength="30.17" lengthAdjust="spacingAndGlyphs">YES</text>
<text x="1654.33" y="973.60" font-size="14.70" fill="#111" textLength="23.76" lengthAdjust="spacingAndGlyphs">NO</text>
<text x="1614.36" y="1034.80" font-size="18.41" fill="#000" textLength="137.62" lengthAdjust="spacingAndGlyphs">Nominal_pvalue</text>
<circle cx="1630.5" cy="1061.60" r="11.20" fill="#000"/>
<text x="1654.46" y="1067.20" font-size="14.70" fill="#111" textLength="38.94" lengthAdjust="spacingAndGlyphs">1e-02</text>
<circle cx="1630.5" cy="1091.10" r="10.30" fill="#000"/>
<text x="1654.85" y="1096.70" font-size="14.70" fill="#111" textLength="38.55" lengthAdjust="spacingAndGlyphs">2e-02</text>
<circle cx="1630.5" cy="1120.60" r="8.30" fill="#000"/>
<text x="1655.00" y="1126.20" font-size="14.70" fill="#111" textLength="38.39" lengthAdjust="spacingAndGlyphs">3e-02</text>
<circle cx="1630.5" cy="1150.10" r="4.80" fill="#000"/>
<text x="1655.30" y="1155.70" font-size="14.70" fill="#111" textLength="38.08" lengthAdjust="spacingAndGlyphs">4e-02</text>
</svg>
</body></html>
